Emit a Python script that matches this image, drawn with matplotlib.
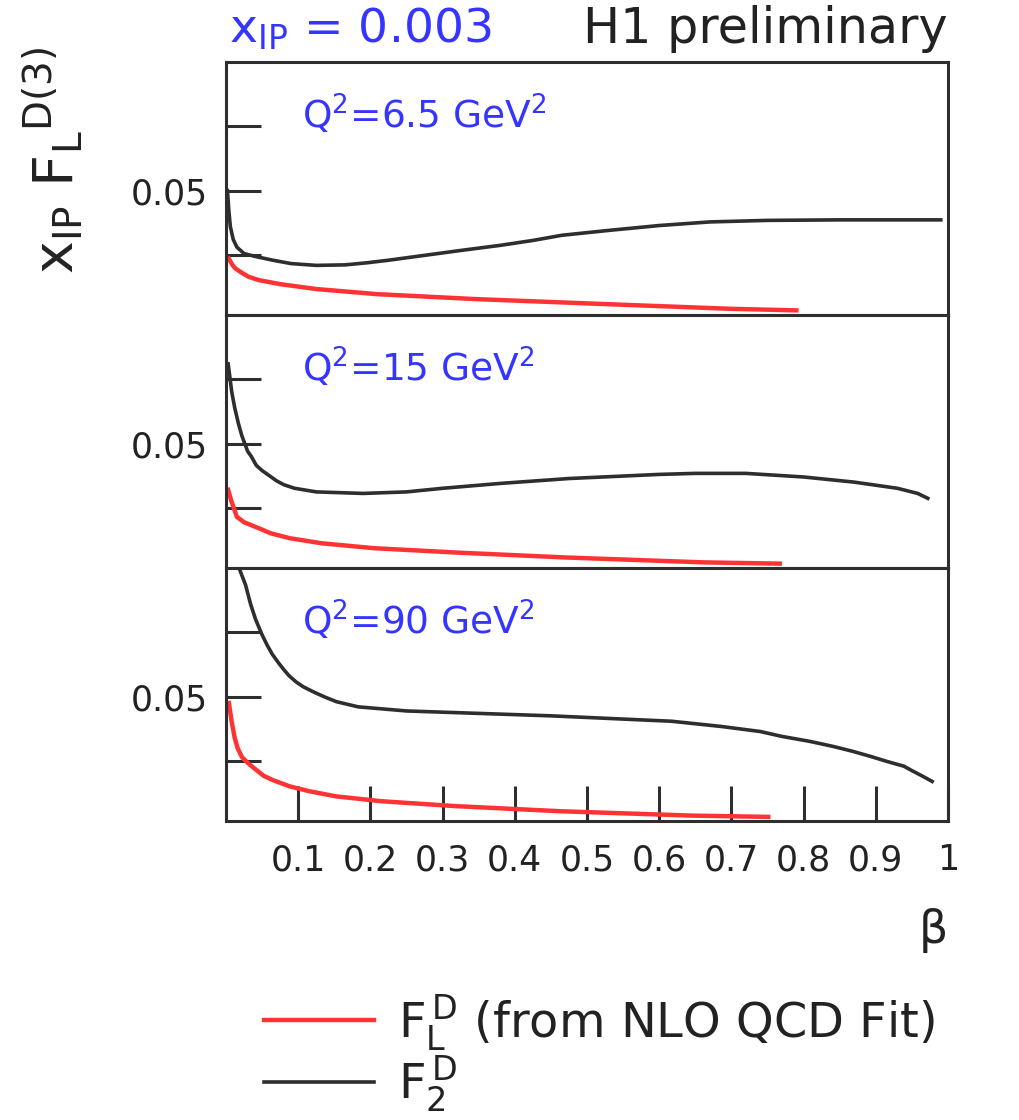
import matplotlib
matplotlib.use("Agg")
import matplotlib.pyplot as plt

# ---------------- data ----------------
q2_values = ["6.5", "15", "90"]

beta_f2_q1 = [0.002, 0.004, 0.006, 0.010, 0.015, 0.025, 0.040, 0.065, 0.090, 0.125, 0.165,
              0.195, 0.225, 0.275, 0.325, 0.380, 0.425, 0.465, 0.530, 0.600, 0.670, 0.750,
              0.850, 0.990]
f2_q1 = [0.0500, 0.0420, 0.0360, 0.0310, 0.0280, 0.0255, 0.0244, 0.0229, 0.0216, 0.0209, 0.0211,
         0.0219, 0.0229, 0.0248, 0.0267, 0.0287, 0.0306, 0.0326, 0.0345, 0.0364, 0.0378, 0.0384,
         0.0386, 0.0386]
beta_fl_q1 = [0.004, 0.009, 0.013, 0.022, 0.031, 0.045, 0.075, 0.125, 0.210, 0.345, 0.520, 0.700, 0.790]
fl_q1 = [0.0235, 0.0210, 0.0197, 0.0180, 0.0165, 0.0152, 0.0136, 0.0117, 0.0097, 0.0078, 0.0059,
         0.0040, 0.0034]

beta_f2_q2 = [0.003, 0.008, 0.012, 0.017, 0.022, 0.030, 0.035, 0.042, 0.050, 0.060, 0.070, 0.080,
              0.095, 0.125, 0.190, 0.250, 0.300, 0.380, 0.475, 0.600, 0.650, 0.720, 0.800, 0.870,
              0.930, 0.958, 0.972]
f2_q2 = [0.0810, 0.0700, 0.0640, 0.0580, 0.0530, 0.0470, 0.0450, 0.0415, 0.0395, 0.0375, 0.0355,
         0.0340, 0.0326, 0.0312, 0.0306, 0.0312, 0.0326, 0.0345, 0.0364, 0.0380, 0.0384, 0.0384,
         0.0370, 0.0350, 0.0326, 0.0306, 0.0287]
beta_fl_q2 = [0.003, 0.007, 0.011, 0.015, 0.025, 0.046, 0.062, 0.088, 0.133, 0.205, 0.320, 0.470,
              0.660, 0.767]
fl_q2 = [0.0320, 0.0280, 0.0248, 0.0215, 0.0194, 0.0170, 0.0151, 0.0132, 0.0112, 0.0093, 0.0076,
         0.0057, 0.0038, 0.0033]

beta_f2_q3 = [0.019, 0.027, 0.034, 0.041, 0.050, 0.057, 0.064, 0.073, 0.080, 0.087, 0.097, 0.107,
              0.122, 0.137, 0.153, 0.183, 0.250, 0.450, 0.617, 0.685, 0.740, 0.770, 0.808, 0.841,
              0.868, 0.893, 0.915, 0.939, 0.950, 0.965, 0.978]
f2_q3 = [0.0993, 0.0935, 0.0860, 0.0800, 0.0740, 0.0700, 0.0665, 0.0630, 0.0605, 0.0582, 0.0557,
         0.0538, 0.0517, 0.0498, 0.0480, 0.0460, 0.0444, 0.0425, 0.0404, 0.0384, 0.0364, 0.0345,
         0.0326, 0.0306, 0.0287, 0.0267, 0.0248, 0.0229, 0.0212, 0.0190, 0.0170]
beta_fl_q3 = [0.004, 0.008, 0.012, 0.016, 0.022, 0.029, 0.036, 0.045, 0.052, 0.065, 0.088, 0.115,
              0.152, 0.215, 0.317, 0.463, 0.645, 0.751]
fl_q3 = [0.0475, 0.0400, 0.0340, 0.0300, 0.0265, 0.0245, 0.0228, 0.0208, 0.0192, 0.0175, 0.0151,
         0.0132, 0.0112, 0.0093, 0.0074, 0.0054, 0.0037, 0.0032]

x_ticks = [0.1, 0.2, 0.3, 0.4, 0.5, 0.6, 0.7, 0.8, 0.9, 1.0]
x_ticklabels = ["0.1", "0.2", "0.3", "0.4", "0.5", "0.6", "0.7", "0.8", "0.9", "1"]
y_ticks = [0.025, 0.05, 0.075]
y_ticklabels = ["", "0.05", ""]

panels = [
    (q2_values[0], beta_f2_q1, f2_q1, beta_fl_q1, fl_q1),
    (q2_values[1], beta_f2_q2, f2_q2, beta_fl_q2, fl_q2),
    (q2_values[2], beta_f2_q3, f2_q3, beta_fl_q3, fl_q3),
]

# ---------------- styling ----------------
plt.rcParams["font.family"] = ["DejaVu Sans"]
RED = "#ff3333"
DARK = "#2e2e2e"
BLUE = "#3535ff"

W, H = 1020, 1120
fig = plt.figure(figsize=(W / 100, H / 100), dpi=100)
fig.patch.set_facecolor("white")

left_px, right_px = 226, 948
top_px, bot_px = 62, 821
ph = (bot_px - top_px) / 3.0

axes = []
for i, (q2, bf2, f2, bfl, fl) in enumerate(panels):
    y0 = 1 - (top_px + (i + 1) * ph) / H
    ax = fig.add_axes([left_px / W, y0, (right_px - left_px) / W, ph / H])
    l_f2, = ax.plot(bf2, f2, color=DARK, lw=2.6, solid_joinstyle="round")
    l_fl, = ax.plot(bfl, fl, color=RED, lw=3.2, solid_joinstyle="round")
    ax.set_xlim(0, 1.0)
    ax.set_ylim(0.0016, 0.1)
    for s in ax.spines.values():
        s.set_linewidth(2.2)
        s.set_color(DARK)
    ax.set_yticks(y_ticks)
    ax.set_yticklabels(y_ticklabels)
    ax.tick_params(axis="y", direction="in", length=25, width=2.2, color=DARK,
                   labelsize=25, pad=13, labelcolor="#222222")
    ax.minorticks_off()
    if i < 2:
        ax.tick_params(axis="x", bottom=False, labelbottom=False)
    else:
        ax.set_xticks(x_ticks)
        ax.set_xticklabels(x_ticklabels)
        ax.tick_params(axis="x", direction="in", length=25, width=2.2, color=DARK,
                       labelsize=25, pad=16, labelcolor="#222222")
        ax.set_xlabel("β", loc="right", fontsize=33, labelpad=22, color="#222222")
    ax.text(0.105, 0.735, "Q$^2$=" + q2 + " GeV$^2$", transform=ax.transAxes,
            fontsize=27, color=BLUE, ha="left", va="baseline")
    axes.append(ax)

# header texts
fig.text(229 / W, 1 - 43 / H, r"$\mathregular{x_{IP}}$ = 0.003", fontsize=34,
         color=BLUE, ha="left", va="baseline")
fig.text(948 / W, 1 - 43 / H, "H1 preliminary", fontsize=35.5, color="#222222",
         ha="right", va="baseline")

# y label
fig.text(52 / W, 1 - 160 / H, r"$\mathregular{x_{IP}\ F_{L}{}^{D(3)}}$", fontsize=40,
         rotation=90, ha="center", va="center", color="#222222")

# legend
fig.legend(handles=[l_fl, l_f2],
           labels=[r"$\mathregular{F_L^{\,D}}$ (from NLO QCD Fit)", r"$\mathregular{F_2^{\,D}}$"],
           loc="upper left", bbox_to_anchor=(264 / W, 1 - 992 / H), frameon=False,
           fontsize=34.5, handlelength=2.3, handletextpad=0.5, labelspacing=0.02,
           borderaxespad=0, borderpad=0, labelcolor="#222222")

fig.savefig("out.png", dpi=100)
